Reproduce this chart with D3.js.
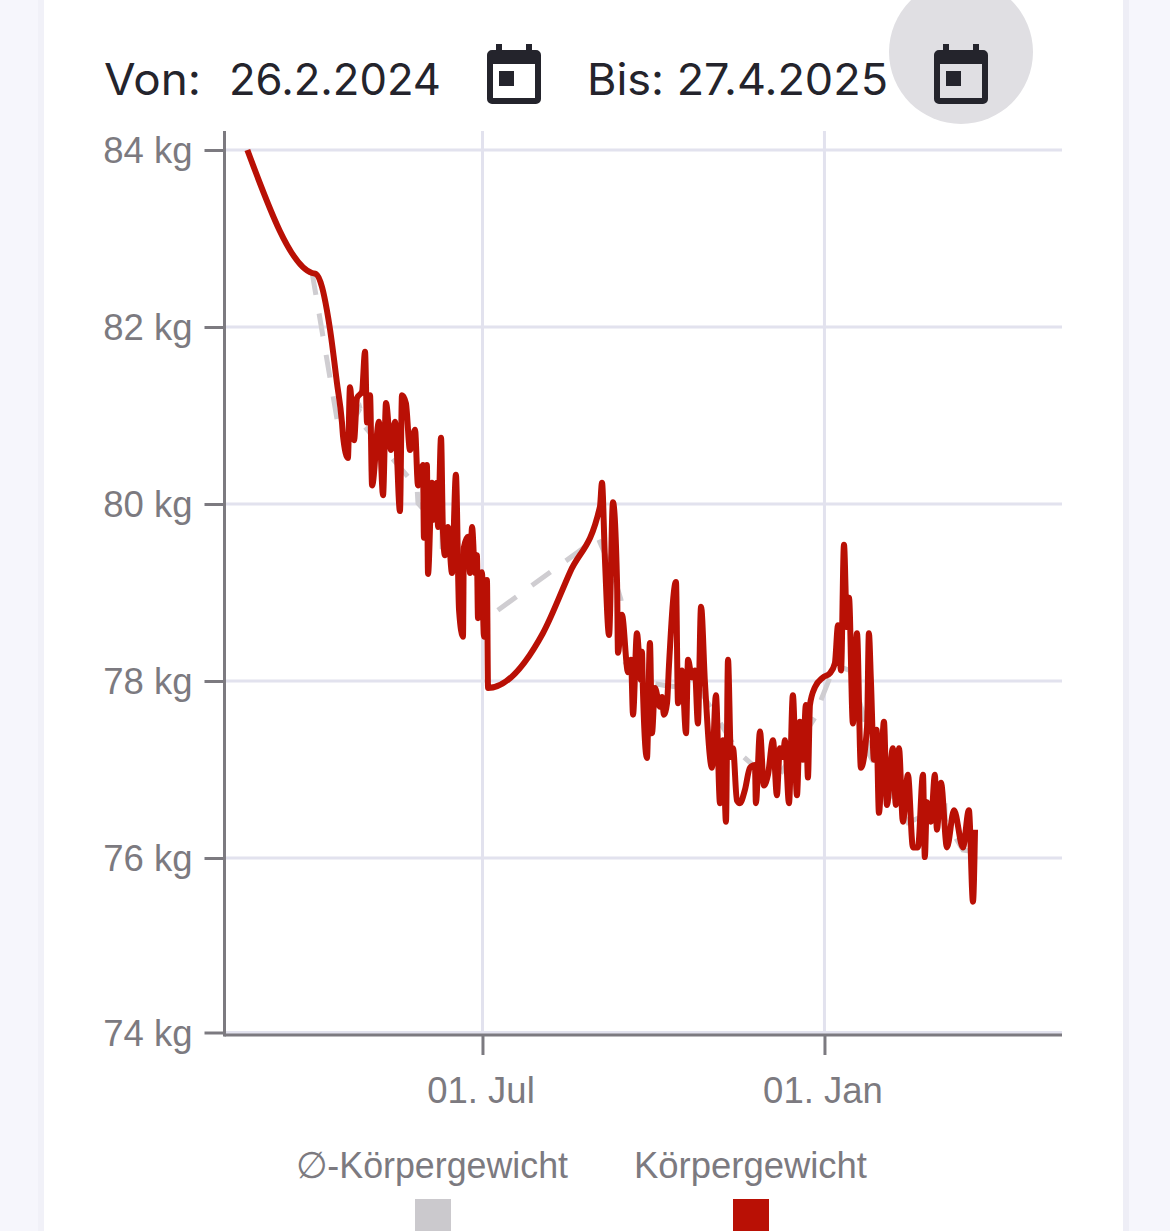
<!DOCTYPE html>
<html>
<head>
<meta charset="UTF-8">
<title>Körpergewicht</title>
<script src="https://cdnjs.cloudflare.com/ajax/libs/d3/7.8.5/d3.min.js"></script>
<style>
  html, body { margin: 0; padding: 0; background: #f6f6fc; }
  svg { display: block; }
  .axis text { font-family: "Liberation Sans", sans-serif; font-size: 36.5px; fill: #7c7a80; }
  .head { font-family: Inter, sans-serif; font-size: 44px; font-weight: 400; fill: #24242c; }
  .legend { font-family: "Liberation Sans", sans-serif; font-size: 36.5px; fill: #7c7a80; }
</style>
</head>
<body>
<div id="chart"></div>
<script>
// days counted from 1 Jul 2024
var weightDays = [-126.5,-91.7,-89.6,-86.3,-83.7,-82,-78.3,-75.6,-75,-72.4,-71.3,-69.1,-67.5,-64.8,-63.2,-62.1,-60.5,-59.4,-55.7,-53.5,-51.9,-49.2,-47.1,-44.4,-43.3,-41.2,-39,-36.3,-34.7,-32,-31.5,-29.9,-29.3,-27.2,-26.6,-24.5,-23.9,-22.3,-21.3,-20.2,-18.6,-16.4,-14.3,-12.6,-10.5,-10,-7.8,-6.7,-5.6,-4,-3,-2.4,-0.3,0.8,2.4,3,32.5,47.1,63.2,64.3,65.9,68.1,70.2,72.4,72.9,75,78.3,79.9,81,83.1,85.3,85.8,86.3,88.5,90.1,91.2,92.8,95.5,96.6,97.6,99.3,100.3,104.1,105.2,107.3,109.5,110.6,112.7,114.3,115.9,117.6,119.7,123.5,125.6,127.8,129.4,131,132.1,133.7,134.8,136.9,138.5,141.2,143.9,146.6,147.1,149.3,151.4,153.6,156.3,158.4,160,161.7,162.7,164.9,167,169.2,170.8,172.4,174,175.1,176.2,178.9,183.2,187,189.6,191.3,192.9,194.5,196.1,197.2,199.3,201.5,203.6,206.9,207.9,209,210.6,212,213.3,216,217.6,220.8,222.4,224.1,226.2,228.9,231.6,234.3,237,238,239.1,241.3,243.4,244.5,246.7,249.9,253.7,258.5,261.7,263.9,265];
var weightKg = [84,82.61,82.6,82.45,82.19,81.97,81.37,80.92,80.76,80.52,81.32,80.72,81.2,81.27,81.72,80.92,81.23,80.21,80.93,80.1,81.14,80.61,80.93,79.92,81.23,81.14,80.61,80.84,80.21,80.44,79.62,80.44,79.21,80.24,79.82,80.24,79.74,80.75,79.71,79.42,79.74,79.22,80.33,78.8,78.5,79.51,79.63,79.22,79.74,79.22,79.42,78.71,79.23,78.5,79.14,77.92,78.54,79.23,79.97,80.24,79.37,78.52,80.02,79.12,78.32,78.75,78.1,78.24,77.62,78.54,78.01,78.33,77.92,77.13,78.43,77.41,77.92,77.71,77.82,77.62,77.75,78.16,79.12,77.75,78.12,77.41,78.24,78.04,78.12,77.52,78.84,77.98,77.02,77.84,76.62,77.33,76.41,78.24,77.14,77.24,76.65,76.62,76.77,77.02,77.05,76.62,77.43,76.82,76.94,77.33,76.71,77.24,77.14,77.33,76.62,77.84,76.71,77.54,77.11,77.73,76.91,77.73,77.93,78.04,78.09,78.2,78.63,78.12,79.54,78.61,78.94,77.52,78.54,77.02,77.48,78.54,78,77.11,77.45,76.51,77.54,76.6,77.24,76.6,77.24,76.41,76.94,76.12,76.12,76.94,76.01,76.63,76.41,76.94,76.32,76.85,76.12,76.54,76.12,76.54,75.5,76.32];

var avgDays = [-91.7,-77.7,-72.4,-65.9,-63.2,-35.2,-34.7,-21.8,-21.7,-1.3,3,62.1,69.7,74.5,76.1,82,98.2,117,137.4,145.5,160,178.9,182.6,189.6,197.7,204.2,207.4,207.5,228.9,248.8,248.9,258.5,265];
var avgKg = [82.62,80.89,80.84,81.08,80.87,80.19,80.01,79.71,79.51,79.23,78.72,79.62,79.25,78.92,78.24,78.01,77.95,77.9,77.2,77.05,76.94,77.59,77.81,78.18,78.12,77.67,77.41,77.19,76.4,76.58,76.43,76.09,76.07];

var yTicks = [84,82,80,78,76,74];
var xTicks = [new Date(Date.UTC(2024,6,1)), new Date(Date.UTC(2025,0,1))];
var xExtent = [-138.8, 311.8];

var legendLabels = ["\u2205-Körpergewicht", "Körpergewicht"];
var legendColors = ["#cbc9cd", "#b91005"];

function dayToDate(d) { return new Date(Date.UTC(2024,6,1) + d*864e5); }

var w = 1170, h = 1231;
var plotLeft = 224.5, plotRight = 1062, plotTop = 131, plotBottom = 1035;

var svg = d3.select("#chart").append("svg").attr("width", w).attr("height", h);

// card
svg.append("rect").attr("x",38).attr("y",0).attr("width",6).attr("height",h).attr("fill","#f1f1f8");
svg.append("rect").attr("x",1123).attr("y",0).attr("width",6).attr("height",h).attr("fill","#eeeef6");
svg.append("rect").attr("x",44).attr("y",0).attr("width",1079).attr("height",h).attr("fill","#fff");

// date pickers
svg.append("circle").attr("cx",961).attr("cy",52).attr("r",72).attr("fill","#e0dfe3");
function headText(x0, len, t) {
  svg.append("text").attr("class","head").attr("x",x0).attr("y",95)
    .attr("textLength",len).attr("lengthAdjust","spacingAndGlyphs").text(t);
}
headText(104, 97, "Von:");
headText(229, 212, "26.2.2024");
headText(587, 301, "Bis: 27.4.2025");

function calendar(x0) {
  svg.append("path").attr("transform","translate("+x0+",44)")
    .attr("fill","#24242c").attr("fill-rule","evenodd")
    .attr("d","M9 0h6v6h24v-6h6v6h4a5 5 0 0 1 5 5v44a5 5 0 0 1-5 5h-44a5 5 0 0 1-5-5v-44a5 5 0 0 1 5-5h4z M6 20v34h42v-34z M12 27h15v15h-15z");
}
calendar(487);
calendar(934);

var x = d3.scaleUtc().domain(xExtent.map(dayToDate)).range([plotLeft,plotRight]);
// the last band of the axis is a little shorter in the picture
var y = d3.scaleLinear().domain([84,76,74]).range([150,858,1032.5]);

// grid
svg.append("g").selectAll("line").data(yTicks).enter().append("line")
  .attr("x1",plotLeft).attr("x2",plotRight)
  .attr("y1",function(d){return y(d)}).attr("y2",function(d){return y(d)})
  .attr("stroke","#e2e2ee").attr("stroke-width",3);
svg.append("g").selectAll("line").data(xTicks).enter().append("line")
  .attr("x1",function(d){return x(d)}).attr("x2",function(d){return x(d)})
  .attr("y1",plotTop).attr("y2",plotBottom)
  .attr("stroke","#e2e2ee").attr("stroke-width",3);

// lines
var weightLine = d3.line()
  .x(function(d){return x(dayToDate(d[0]))})
  .y(function(d){return y(d[1])})
  .curve(d3.curveMonotoneX);
var avgLine = d3.line()
  .x(function(d){return x(dayToDate(d[0]))})
  .y(function(d){return y(d[1])});

svg.append("path").datum(d3.zip(avgDays,avgKg)).attr("d",avgLine)
  .attr("fill","none").attr("stroke","#cfcdd1").attr("stroke-width",5)
  .attr("stroke-dasharray","23,19");
svg.append("path").datum(d3.zip(weightDays,weightKg)).attr("d",weightLine)
  .attr("fill","none").attr("stroke","#b91005").attr("stroke-width",6)
  .attr("stroke-linejoin","round");

// axes
var yAxis = d3.axisLeft(y).tickValues(yTicks).tickFormat(function(d){return d+" kg"}).tickSize(20).tickPadding(12);
var gy = svg.append("g").attr("class","axis").attr("transform","translate("+plotLeft+",0)").call(yAxis);
gy.select(".domain").remove();
gy.selectAll("line").attr("stroke","#7c7a80").attr("stroke-width",3);
gy.selectAll("text").attr("dy","0.35em");
gy.append("line").attr("x1",0).attr("x2",0).attr("y1",plotTop).attr("y2",plotBottom+1.5)
  .attr("stroke","#7c7a80").attr("stroke-width",3);

var xAxis = d3.axisBottom(x).tickValues(xTicks).tickFormat(d3.utcFormat("%d. %b")).tickSize(20).tickPadding(22);
var gx = svg.append("g").attr("class","axis").attr("transform","translate(0,"+plotBottom+")").call(xAxis);
gx.select(".domain").remove();
gx.selectAll("line").attr("stroke","#7c7a80").attr("stroke-width",3);
gx.selectAll("text").attr("dx",-2);
gx.append("line").attr("x1",plotLeft).attr("x2",plotRight).attr("y1",0).attr("y2",0)
  .attr("stroke","#7c7a80").attr("stroke-width",3);

// legend
var legendX = [296,634], legendW = [272,233], legendBox = [415,733];
legendLabels.forEach(function(t,i){
  svg.append("text").attr("class","legend").attr("x",legendX[i]).attr("y",1178)
    .attr("textLength",legendW[i]).attr("lengthAdjust","spacingAndGlyphs").text(t);
  svg.append("rect").attr("x",legendBox[i]).attr("y",1199).attr("width",36).attr("height",32).attr("fill",legendColors[i]);
});
</script>
</body>
</html>
